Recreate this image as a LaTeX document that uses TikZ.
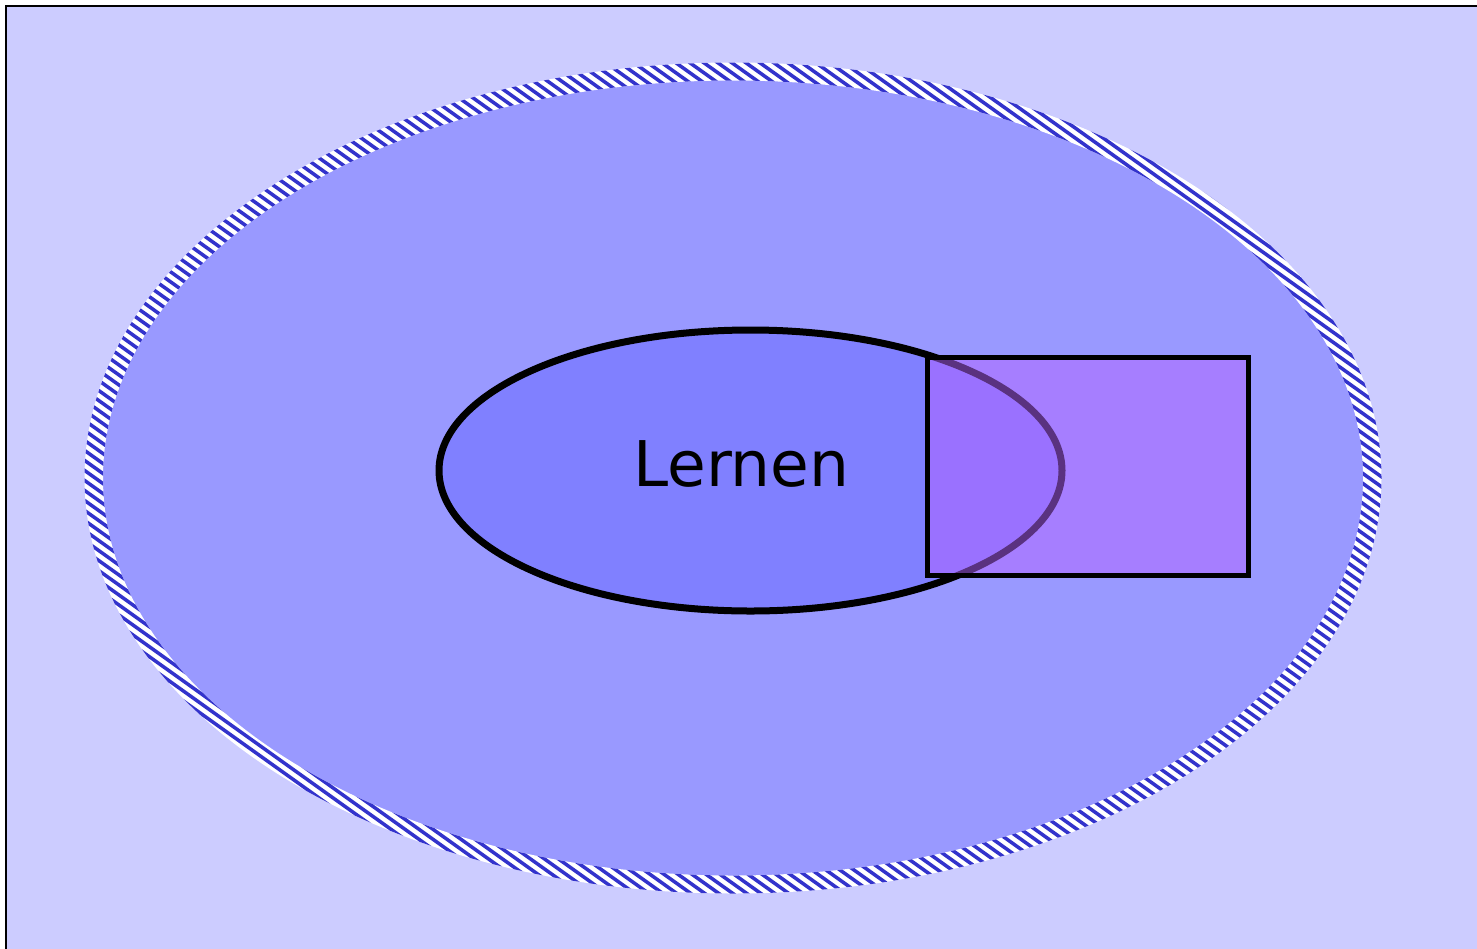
\documentclass[tikz,border=0pt]{standalone}
\usepackage{fontspec}
\setmainfont{DejaVu Sans}
\definecolor{bgc}{HTML}{CCCCFF}
\definecolor{outerc}{HTML}{9999FF}
\definecolor{innerc}{HTML}{8080FF}
\definecolor{stripec}{HTML}{3333CC}
\definecolor{rectc}{RGB}{180,100,255}
\tikzset{
  frame/.style={fill=bgc, draw=black, line width=2pt},
  outerfill/.style={fill=outerc},
  ringbase/.style={fill=white, even odd rule},
  stripeline/.style={draw=stripec, line width=3.5pt},
  innerell/.style={fill=innerc, draw=black, line width=7pt},
  overlay box/.style={fill=rectc, fill opacity=0.5, draw=black, draw opacity=1, line width=5pt},
  label text/.style={font=\fontsize{63}{76}\selectfont, text=black, inner sep=0pt, anchor=base}
}
\begin{document}
\begin{tikzpicture}[x=1pt,y=-1pt]
\useasboundingbox (0,0) rectangle (1477,948);
\fill[white] (0,0) rectangle (1477,948);
\draw[frame] (6,6) rectangle (1500,980);
% outer ellipse
\fill[outerfill] (733,478) ellipse [x radius=640, y radius=407];
\fill[ringbase] (733,478) ellipse [x radius=648.5, y radius=415.5] (733,478) ellipse [x radius=630, y radius=397.5];
\begin{scope}[even odd rule]
\clip (733,478) ellipse [x radius=648.5, y radius=415.5] (733,478) ellipse [x radius=630, y radius=397.5];
\foreach \sx in {-1400,-1386,...,1500} {
  \draw[stripeline] (\sx,0) -- ++(1400,1000);
}
\end{scope}
% inner ellipse
\node[draw=none, inner sep=0pt, minimum width=623pt, minimum height=281pt] (inner) at (750.5,470.5) {};
\draw[innerell] (inner.center) ellipse [x radius=311.5, y radius=140.5];
\node[label text] (lernen) at (741.5,486) {Lernen};
% rectangle
\node[overlay box, inner sep=0pt, minimum width=320.5pt, minimum height=218pt] (box) at (1087.75,466) {};
\end{tikzpicture}
\end{document}
